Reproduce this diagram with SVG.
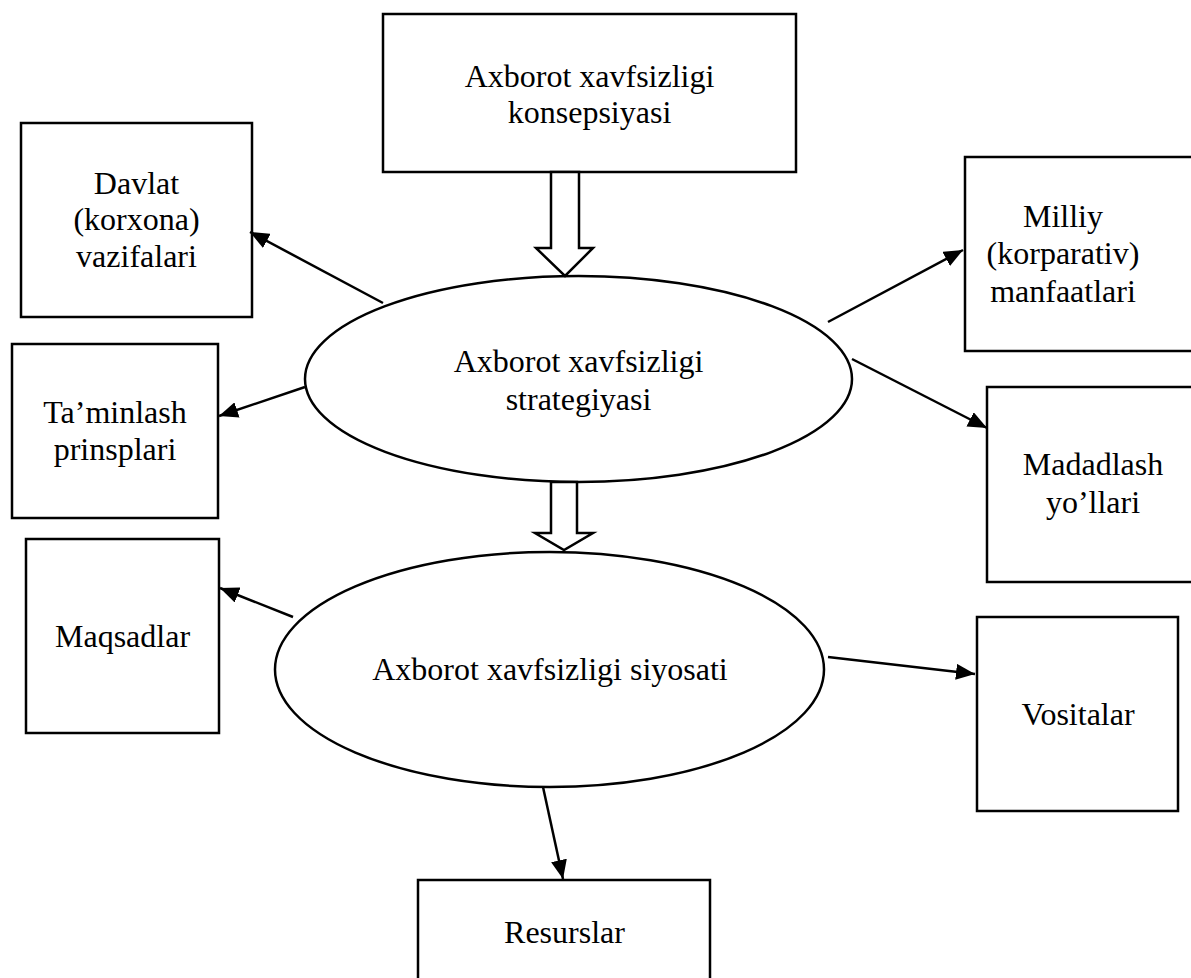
<svg xmlns="http://www.w3.org/2000/svg" width="1191" height="978" viewBox="0 0 1191 978">
<style>
.box{fill:#fff;stroke:#000;stroke-width:2.5}
.ell{fill:#fff;stroke:#000;stroke-width:2.5}
.hollow{fill:#fff;stroke:#000;stroke-width:2.5;stroke-linejoin:miter}
.con{stroke:#000;stroke-width:2.5;fill:none}
text{font-family:"Liberation Serif","Times New Roman",serif;font-size:32px;fill:#000;text-anchor:middle}
</style>
<defs>
<marker id="ah" markerUnits="userSpaceOnUse" markerWidth="20" markerHeight="16" refX="19" refY="8" orient="auto">
<path d="M0,0 L19,8 L0,16 z" fill="#000"/>
</marker>
</defs>
<rect width="1191" height="978" fill="#fff"/>
<g id="n-konsepsiya">
<rect class="box" x="383" y="14" width="413" height="158"/>
<text x="589.5" y="87">Axborot xavfsizligi</text>
<text x="589.5" y="123">konsepsiyasi</text>
</g>
<g id="n-strategiya">
<ellipse class="ell" cx="578.5" cy="379" rx="273.5" ry="103"/>
<text x="578.5" y="372">Axborot xavfsizligi</text>
<text x="578.5" y="410">strategiyasi</text>
</g>
<g id="n-siyosat">
<ellipse class="ell" cx="549.5" cy="669.5" rx="274.5" ry="117.5"/>
<text x="550" y="680">Axborot xavfsizligi siyosati</text>
</g>
<g id="n-davlat">
<rect class="box" x="21" y="123" width="231" height="194"/>
<text x="136.5" y="194">Davlat</text>
<text x="136.5" y="230">(korxona)</text>
<text x="136.5" y="267">vazifalari</text>
</g>
<g id="n-taminlash">
<rect class="box" x="12" y="344" width="206" height="174"/>
<text x="115" y="423">Ta’minlash</text>
<text x="115" y="460">prinsplari</text>
</g>
<g id="n-maqsadlar">
<rect class="box" x="26" y="539" width="193" height="194"/>
<text x="122.5" y="647">Maqsadlar</text>
</g>
<g id="n-milliy">
<rect class="box" x="965" y="157" width="240" height="194"/>
<text x="1063" y="227">Milliy</text>
<text x="1063" y="264">(korparativ)</text>
<text x="1063" y="302">manfaatlari</text>
</g>
<g id="n-madadlash">
<rect class="box" x="987" y="387" width="220" height="195"/>
<text x="1093" y="475">Madadlash</text>
<text x="1093" y="513">yo’llari</text>
</g>
<g id="n-vositalar">
<rect class="box" x="977" y="617" width="201" height="194"/>
<text x="1078" y="725">Vositalar</text>
</g>
<g id="n-resurslar">
<rect class="box" x="418" y="880" width="292" height="110"/>
<text x="564.5" y="943">Resurslar</text>
</g>
<g id="connectors">
<polygon class="hollow" points="551,172 579,172 579,248 593,248 565,276 536,248 551,248"/>
<polygon class="hollow" points="551,482 577,482 577,533 593,533 564,550 535,533 551,533"/>
<line class="con" x1="383" y1="303" x2="250" y2="232" marker-end="url(#ah)"/>
<line class="con" x1="305" y1="387" x2="219" y2="416" marker-end="url(#ah)"/>
<line class="con" x1="828" y1="322" x2="963" y2="250" marker-end="url(#ah)"/>
<line class="con" x1="852" y1="359" x2="987" y2="428" marker-end="url(#ah)"/>
<line class="con" x1="293" y1="617" x2="220" y2="588" marker-end="url(#ah)"/>
<line class="con" x1="828" y1="657" x2="975" y2="674" marker-end="url(#ah)"/>
<line class="con" x1="543" y1="787" x2="563" y2="879" marker-end="url(#ah)"/>
</g>
</svg>
